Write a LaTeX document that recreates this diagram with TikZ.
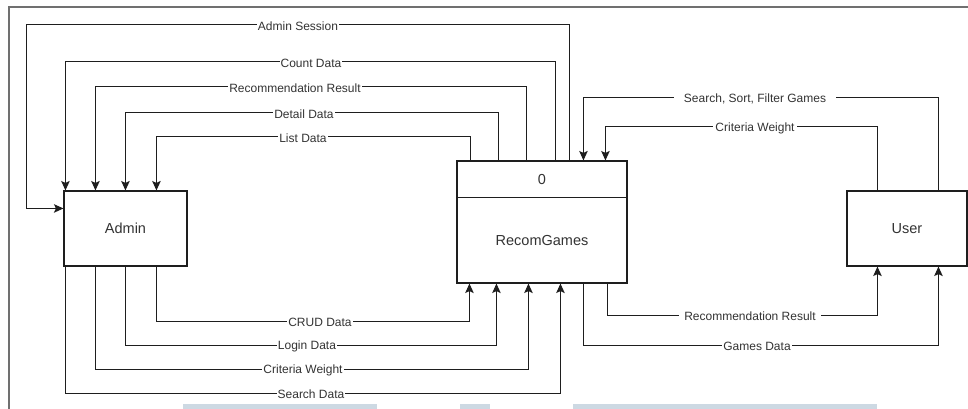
\documentclass[tikz,border=0pt]{standalone}
\usepackage{fontspec}
\setmainfont{Liberation Sans}
\usetikzlibrary{arrows.meta}
\definecolor{ink}{HTML}{1E1E1E}
\definecolor{txt}{HTML}{333333}
\definecolor{frame}{HTML}{707070}
\definecolor{band}{HTML}{CDD9E3}
\tikzset{
  entity/.style={draw=ink, line width=1.1pt, fill=white, inner sep=0pt},
  boxtext/.style={text=txt, font=\fontsize{14.5}{16}\selectfont, inner sep=0pt},
  flow/.style={draw=ink, line width=1.1pt, -{Stealth[length=9.5pt,width=8.5pt,inset=2pt]}},
  lbl/.style={fill=white, text=txt, font=\fontsize{12}{13}\selectfont, inner xsep=1pt, inner ysep=1pt, yshift=-1pt},
  widelbl/.style={lbl, inner xsep=#1},
}
\begin{document}
\begin{tikzpicture}[x=1pt, y=-1pt]
  \useasboundingbox (0,0) rectangle (968,408);
  \fill[white] (0,0) rectangle (968,408);

  % page frame and strips along the lower edge
  \draw[frame, line width=1.5pt] (9,410) -- (9,7) -- (970,7);
  \fill[band] (183,404) rectangle (377,410);
  \fill[band] (460,404) rectangle (490,410);
  \fill[band] (573,404) rectangle (877,410);

  % entities and process
  \node[entity, minimum width=123pt, minimum height=75pt] (admin) at (125.5,228.5) {};
  \node[boxtext] (admintext) at (admin.center) {Admin};
  \node[entity, minimum width=170pt, minimum height=122pt] (recom) at (542,222) {};
  \draw[ink, line width=1.1pt] ([yshift=-37pt]recom.north west) -- ([yshift=-37pt]recom.north east);
  \node[boxtext] (recomid) at (542,179.5) {0};
  \node[boxtext] (recomname) at (542,241) {RecomGames};
  \node[entity, minimum width=120pt, minimum height=75pt] (user) at (907,228.5) {};
  \node[boxtext] (usertext) at (user.center) {User};

  % flows from the process to Admin
  \draw[flow] ([xshift=113pt]recom.north west) -- ++(0,-136) -- ++(-543,0) |- ([yshift=-18pt]admin.north west);
  \draw[flow] ([xshift=99pt]recom.north west) -- ++(0,-99) -| ([xshift=2pt]admin.north west);
  \draw[flow] ([xshift=70pt]recom.north west) -- ++(0,-74) -| ([xshift=32pt]admin.north west);
  \draw[flow] ([xshift=42pt]recom.north west) -- ++(0,-48) -| ([xshift=62pt]admin.north west);
  \draw[flow] ([xshift=14pt]recom.north west) -- ++(0,-24) -| ([xshift=93pt]admin.north west);

  % flows from Admin to the process
  \draw[flow] ([xshift=93pt]admin.south west) -- ++(0,55) -| ([xshift=13pt]recom.south west);
  \draw[flow] ([xshift=62pt]admin.south west) -- ++(0,79) -| ([xshift=40pt]recom.south west);
  \draw[flow] ([xshift=32pt]admin.south west) -- ++(0,103) -| ([xshift=72pt]recom.south west);
  \draw[flow] ([xshift=2pt]admin.south west) -- ++(0,127) -| ([xshift=104pt]recom.south west);

  % flows between User and the process
  \draw[flow] ([xshift=92pt]user.north west) -- ++(0,-93) -| ([xshift=127pt]recom.north west);
  \draw[flow] ([xshift=31pt]user.north west) -- ++(0,-64) -| ([xshift=149pt]recom.north west);
  \draw[flow] ([xshift=151pt]recom.south west) -- ++(0,32) -| ([xshift=31pt]user.south west);
  \draw[flow] ([xshift=127pt]recom.south west) -- ++(0,62) -| ([xshift=92pt]user.south west);

  % flow labels
  \node[lbl] (l1) at (298,25) {Admin Session};
  \node[lbl] (l2) at (311,62) {Count Data};
  \node[lbl] (l3) at (295,87) {Recommendation Result};
  \node[lbl] (l4) at (304,113) {Detail Data};
  \node[lbl] (l5) at (303,137) {List Data};
  \node[lbl] (l6) at (320,321) {CRUD Data};
  \node[lbl] (l7) at (307,345) {Login Data};
  \node[lbl] (l8) at (303,369) {Criteria Weight};
  \node[lbl] (l9) at (311,393) {Search Data};
  \node[widelbl=10pt] (l10) at (755,98) {Search, Sort, Filter Games};
  \node[widelbl=2pt] (l11) at (755,127) {Criteria Weight};
  \node[widelbl=5pt] (l12) at (750,315) {Recommendation Result};
  \node[lbl] (l13) at (757,345) {Games Data};
\end{tikzpicture}
\end{document}
